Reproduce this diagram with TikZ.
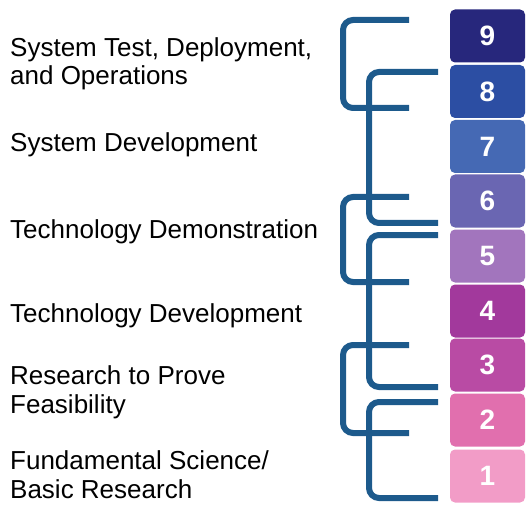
\documentclass[tikz,border=0pt]{standalone}
\usepackage{fontspec}
\setmainfont{Liberation Sans}
\usepackage{tikz}
\usepackage{xcolor}

\definecolor{trl9}{HTML}{27277C}
\definecolor{trl8}{HTML}{2C4EA3}
\definecolor{trl7}{HTML}{4569B4}
\definecolor{trl6}{HTML}{6A66B2}
\definecolor{trl5}{HTML}{A275BD}
\definecolor{trl4}{HTML}{A2399C}
\definecolor{trl3}{HTML}{B94BA4}
\definecolor{trl2}{HTML}{E16FAE}
\definecolor{trl1}{HTML}{F29CC7}
\definecolor{brace}{HTML}{1D5A8C}

\tikzset{
  level/.style={rectangle,rounded corners=5pt,minimum width=75pt,minimum height=53pt,inner sep=0pt,text=white,font=\fontsize{28}{30}\selectfont\bfseries},
  stage/.style={anchor=base west,align=left,inner sep=0pt,font=\fontsize{26}{28.5}\selectfont},
  brk/.style={draw=brace,line width=6pt,rounded corners=10pt}
}

\begin{document}
\begin{tikzpicture}[x=1pt,y=-1pt]
\useasboundingbox (0,0) rectangle (526,510);
\node[level,fill=trl9] (b9) at (487.5,36) {9};
\node[level,fill=trl8] (b8) at (487.5,91.5) {8};
\node[level,fill=trl7] (b7) at (487.5,146.5) {7};
\node[level,fill=trl6] (b6) at (487.5,201) {6};
\node[level,fill=trl5] (b5) at (487.5,256) {5};
\node[level,fill=trl4] (b4) at (487.5,311) {4};
\node[level,fill=trl3] (b3) at (487.5,365) {3};
\node[level,fill=trl2] (b2) at (487.5,420) {2};
\node[level,fill=trl1] (b1) at (487.5,476) {1};
\node[stage] (l6) at (10,85) {System Test, Deployment,\\and Operations};
\node[stage] (l5) at (10,152) {System Development};
\node[stage] (l4) at (10,238) {Technology Demonstration};
\node[stage] (l3) at (10,322) {Technology Development};
\node[stage] (l2) at (10,413) {Research to Prove\\Feasibility};
\node[stage] (l1) at (10,498) {Fundamental Science/\\Basic Research};
\draw[brk] (409,20) -- (343,20) -- (343,108) -- (409,108);
\draw[brk] (438,72) -- (369,72) -- (369,223) -- (438,223);
\draw[brk] (409,197) -- (343,197) -- (343,282) -- (409,282);
\draw[brk] (438,235) -- (369,235) -- (369,387) -- (438,387);
\draw[brk] (409,345) -- (343,345) -- (343,433) -- (409,433);
\draw[brk] (438,402) -- (369,402) -- (369,498) -- (438,498);
\end{tikzpicture}
\end{document}
